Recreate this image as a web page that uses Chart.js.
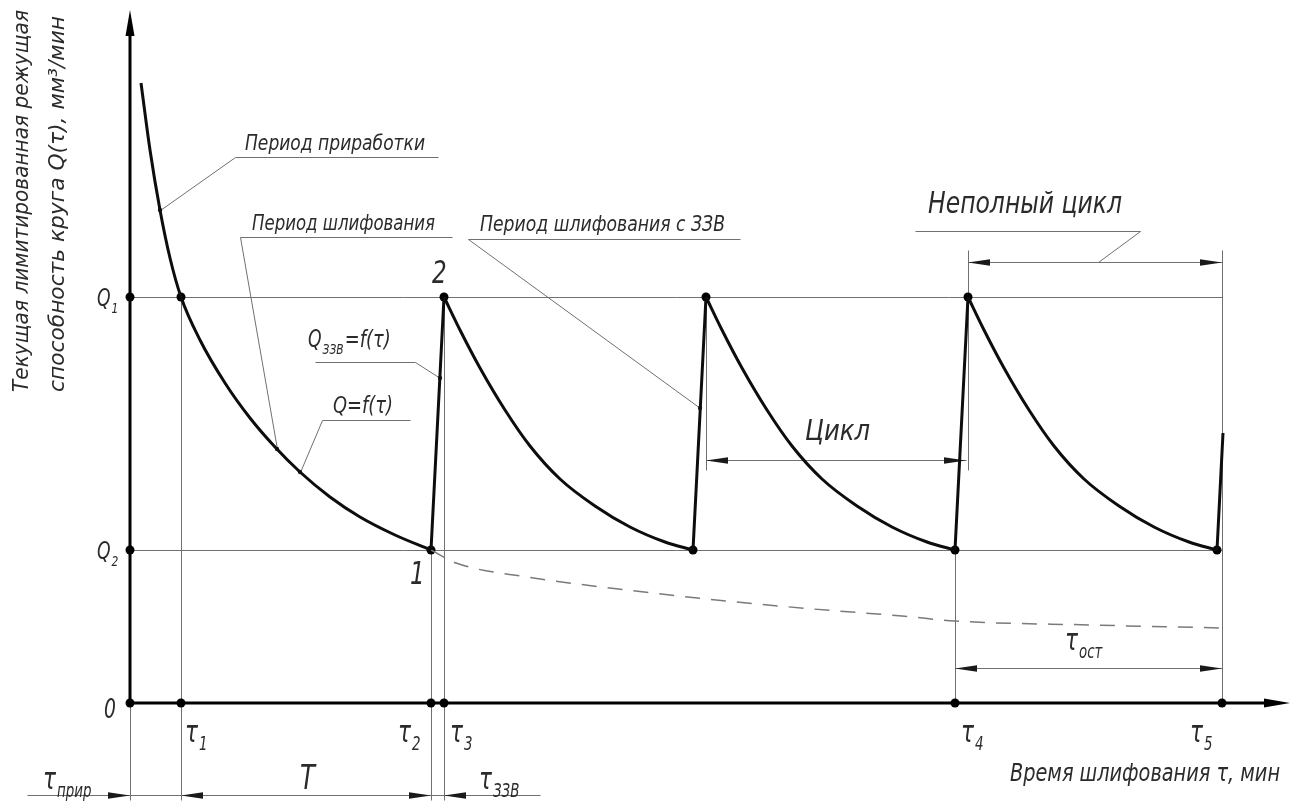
<!DOCTYPE html>
<html lang="ru">
<head>
<meta charset="UTF-8">
<title>Q(τ) – лимитированная режущая способность круга</title>
<script src="https://cdn.jsdelivr.net/npm/chart.js"></script>
<style>
  html, body { margin: 0; padding: 0; background: #fff; }
  #wrap { width: 1298px; height: 802px; }
</style>
</head>
<body>
<div id="wrap"><canvas id="Chart"></canvas></div>
<script>
// run-in period (приработка), tau and Q in conventional units
const runInT = [1.1, 2.0, 3.0, 4.0, 5.1, 7.0, 9.5, 12.0, 14.5, 17.0, 20.0, 23.0, 26.5, 30.1];
const runInQ = [62.0, 55.3, 49.3, 44.5, 40.6, 36.3, 32.0, 28.5, 25.6, 23.1, 20.6, 18.6, 16.8, 15.3];
// grinding cycles after each dressing
const cycle1T = [31.4, 33.0, 35.0, 37.5, 40.0, 43.0, 46.5, 50.0, 53.5, 56.3];
const cycle1Q = [40.6, 37.3, 33.5, 29.3, 25.7, 22.4, 19.7, 17.6, 16.1, 15.3];
const cycle2T = [57.6, 59.2, 61.2, 63.7, 66.2, 69.2, 72.7, 76.2, 79.7, 82.5];
const cycle2Q = [40.6, 37.3, 33.5, 29.3, 25.7, 22.4, 19.7, 17.6, 16.1, 15.3];
const cycle3T = [83.8, 85.4, 87.4, 89.9, 92.4, 95.4, 98.9, 102.4, 105.9, 108.7];
const cycle3Q = [40.6, 37.3, 33.5, 29.3, 25.7, 22.4, 19.7, 17.6, 16.1, 15.3];
// recovery by ЗЗВ (pairs: start, end)
const jumpT = [30.1, 31.4, 56.3, 57.6, 82.5, 83.8, 108.7, 109.3];
const jumpQ = [15.3, 40.6, 15.3, 40.6, 15.3, 40.6, 15.3, 27.0];
// Q=f(τ) without ЗЗВ (dashed)
const wearT = [30.1, 32.6, 39.7, 49.7, 58.6, 68.3, 77.2, 82.5, 96.0, 109.2];
const wearQ = [15.3, 14.0, 12.6, 11.3, 10.3, 9.4, 8.7, 8.2, 7.8, 7.5];
// levels and time marks
const levelQ = [40.6, 15.3];
const levelNames = ['1', '2'];
const tauT = [5.1, 30.1, 31.4, 82.5, 109.2];
const tauNames = ['1', '2', '3', '4', '5'];
// black dots
const markT = [0, 0, 0, 5.1, 30.1, 31.4, 82.5, 109.2, 5.1, 30.1, 31.4, 56.3, 57.6, 82.5, 83.8, 108.7];
const markQ = [40.6, 15.3, 0, 0, 0, 0, 0, 0, 40.6, 15.3, 40.6, 15.3, 40.6, 15.3, 40.6, 15.3];
const leaderT = [3.0, 14.7, 17.0, 31.0, 57.0];
const leaderQ = [49.3, 25.4, 23.1, 32.5, 29.5];

const xMax = 116, yMax = 69.3;
const FONT = '"DejaVu Sans Condensed", "Liberation Sans Narrow", Roboto, sans-serif';

const pts = (t, q) => t.map((v, i) => ({ x: v, y: q[i] }));
function jumpPts() {
    const out = [];
    for (let i = 0; i < jumpT.length; i += 2) {
        out.push({ x: jumpT[i], y: jumpQ[i] }, { x: jumpT[i + 1], y: jumpQ[i + 1] });
        out.push({ x: jumpT[i + 1], y: null }); // break
    }
    return out;
}

function say(ctx, str, px, py, size, o = {}) {
    ctx.save();
    ctx.font = `italic ${size}px ${FONT}`;
    ctx.fillStyle = '#2b2b2b';
    ctx.textAlign = 'left';
    ctx.textBaseline = 'alphabetic';
    ctx.translate(px, py);
    if (o.rot) ctx.rotate(o.rot);
    const w = ctx.measureText(str).width;
    const sx = o.width ? o.width / w : 0.8;
    ctx.scale(sx, 1);
    ctx.fillText(str, 0, 0);
    ctx.restore();
    return w * sx;
}
function saySub(ctx, base, sub, px, py, size) {
    const w = say(ctx, base, px, py, size);
    return w + 1 + say(ctx, sub, px + w + 1, py + size * 0.28, size * 0.62);
}

const drawing = {
    id: 'drawing',
    beforeDatasetsDraw(chart) {
        const { ctx, scales: { x, y } } = chart;
        const X = v => x.getPixelForValue(v), Y = v => y.getPixelForValue(v);
        const seg = (x1, y1, x2, y2) => {
            ctx.beginPath();
            ctx.moveTo(Math.round(X(x1)) + 0.5, Math.round(Y(y1)) + 0.5);
            ctx.lineTo(Math.round(X(x2)) + 0.5, Math.round(Y(y2)) + 0.5);
            ctx.stroke();
        };
        const arrow = (tx, ty, ang) => {
            const px = X(tx), py = Math.round(Y(ty)) + 0.5, L = 22, h = 3.2;
            ctx.beginPath();
            ctx.moveTo(px, py);
            ctx.lineTo(px - L * Math.cos(ang) - h * Math.sin(ang), py - L * Math.sin(ang) + h * Math.cos(ang));
            ctx.lineTo(px - L * Math.cos(ang) + h * Math.sin(ang), py - L * Math.sin(ang) - h * Math.cos(ang));
            ctx.closePath();
            ctx.fill();
        };
        const dim = (x1, x2, yy) => { seg(x1, yy, x2, yy); arrow(x1, yy, Math.PI); arrow(x2, yy, 0); };

        const [Q1, Q2] = levelQ;
        const bottomExt = -9.7, dimBottom = -9.2, extTop = 45.3, extCycle = 23.3;
        ctx.save();
        ctx.strokeStyle = '#707070';
        ctx.fillStyle = '#1a1a1a';
        ctx.lineWidth = 1;
        // levels Q1, Q2
        levelQ.forEach(q => seg(0, q, tauT[4], q));
        // extension lines
        seg(0, 0, 0, bottomExt);
        seg(tauT[0], Q1, tauT[0], bottomExt);
        seg(tauT[1], Q2, tauT[1], bottomExt);
        seg(tauT[2], Q1, tauT[2], bottomExt);
        seg(tauT[3], Q2, tauT[3], 0);
        seg(tauT[4], extTop, tauT[4], 0);
        seg(cycle2T[0], Q1, cycle2T[0], extCycle);
        seg(cycle3T[0], extTop, cycle3T[0], extCycle);
        // bottom dimension chain
        seg(-10.3, dimBottom, 41.0, dimBottom);
        arrow(0, dimBottom, 0);
        arrow(tauT[0], dimBottom, Math.PI);
        arrow(tauT[1], dimBottom, 0);
        arrow(tauT[2], dimBottom, Math.PI);
        // Цикл, Неполный цикл, τост
        dim(cycle2T[0], 83.6, 24.3);
        dim(cycle3T[0], tauT[4], 44.1);
        dim(tauT[3], tauT[4], 3.5);
        // leader lines
        seg(10.5, 54.6, 30.8, 54.6); seg(10.5, 54.6, leaderT[0], leaderQ[0]);
        seg(11.0, 46.6, 32.2, 46.6); seg(11.0, 46.6, leaderT[1], leaderQ[1]);
        seg(19.2, 28.3, 28.0, 28.3); seg(19.2, 28.3, leaderT[2], leaderQ[2]);
        seg(18.5, 34.1, 28.5, 34.1); seg(28.5, 34.1, leaderT[3], leaderQ[3]);
        seg(33.8, 46.4, 61.0, 46.4); seg(33.8, 46.4, leaderT[4], leaderQ[4]);
        seg(78.5, 47.2, 101.0, 47.2); seg(101.0, 47.2, 96.8, 44.1);
        ctx.restore();
    },
    afterDatasetsDraw(chart) {
        const { ctx, scales: { x, y } } = chart;
        const X = v => x.getPixelForValue(v), Y = v => y.getPixelForValue(v);
        ctx.save();
        // axes
        ctx.strokeStyle = '#000';
        ctx.lineWidth = 3;
        ctx.beginPath();
        ctx.moveTo(X(0), Y(yMax) + 20);
        ctx.lineTo(X(0), Y(0));
        ctx.lineTo(X(xMax) - 20, Y(0));
        ctx.stroke();
        ctx.fillStyle = '#000';
        ctx.beginPath();
        ctx.moveTo(X(xMax), Y(0)); ctx.lineTo(X(xMax) - 26, Y(0) - 4.5); ctx.lineTo(X(xMax) - 26, Y(0) + 4.5);
        ctx.closePath(); ctx.fill();
        ctx.beginPath();
        ctx.moveTo(X(0), Y(yMax)); ctx.lineTo(X(0) - 4.5, Y(yMax) + 26); ctx.lineTo(X(0) + 4.5, Y(yMax) + 26);
        ctx.closePath(); ctx.fill();

        // axis titles
        say(ctx, 'Текущая лимитированная режущая', X(-10.2), Y(31.1), 21, { rot: -Math.PI / 2, width: 382 });
        say(ctx, 'способность круга Q(τ), мм³/мин', X(-6.6), Y(31.1), 21, { rot: -Math.PI / 2, width: 376 });
        say(ctx, 'Время шлифования τ, мин', X(88.0), Y(-7.8), 24, { width: 270 });

        // levels and time marks
        say(ctx, '0', X(-2.6), Y(-1.5), 26);
        levelQ.forEach((q, i) => saySub(ctx, 'Q', levelNames[i], X(-3.3), Y(q) + 9, 24));
        const tauDx = [0.4, -3.3, 0.6, 0.6, -3.2];
        tauT.forEach((t, i) => saySub(ctx, 'τ', tauNames[i], X(t + tauDx[i]), Y(-3.9), 30));
        saySub(ctx, 'τ', 'прир', X(-8.7), Y(-8.6), 30);
        say(ctx, 'T', X(17.0), Y(-8.6), 34);
        saySub(ctx, 'τ', 'ЗЗВ', X(34.9), Y(-8.6), 30);
        saySub(ctx, 'τ', 'ост', X(93.5), Y(5.3), 30);

        // notes
        say(ctx, 'Период приработки', X(11.5), Y(55.3), 22, { width: 180 });
        say(ctx, 'Период шлифования', X(12.2), Y(47.3), 22, { width: 183 });
        say(ctx, 'Период шлифования с ЗЗВ', X(35.0), Y(47.2), 22, { width: 245 });
        say(ctx, 'Q=f(τ)', X(20.3), Y(29.0), 23, { width: 60 });
        const w = saySub(ctx, 'Q', 'ЗЗВ', X(17.8), Y(35.6), 24);
        say(ctx, '=f(τ)', X(17.8) + w + 1, Y(35.6), 23, { width: 46 });
        say(ctx, 'Неполный цикл', X(79.8), Y(49.0), 31, { width: 194 });
        say(ctx, 'Цикл', X(67.5), Y(26.3), 29, { width: 65 });
        say(ctx, '1', X(28.0), Y(11.9), 32);
        say(ctx, '2', X(30.2), Y(42.0), 32);
        ctx.restore();
    }
};

const curve = { borderColor: '#0d0d0d', borderWidth: 3, pointRadius: 0, cubicInterpolationMode: 'monotone', clip: false };

new Chart(document.getElementById('Chart'), {
    type: 'line',
    data: {
        datasets: [
            { ...curve, data: pts(runInT, runInQ) },
            { ...curve, data: pts(cycle1T, cycle1Q) },
            { ...curve, data: pts(cycle2T, cycle2Q) },
            { ...curve, data: pts(cycle3T, cycle3Q) },
            { borderColor: '#0d0d0d', borderWidth: 3, pointRadius: 0, tension: 0, spanGaps: false, clip: false, data: jumpPts() },
            { borderColor: '#7a7a7a', borderWidth: 1.5, borderDash: [15, 11], pointRadius: 0, cubicInterpolationMode: 'monotone', clip: false, data: pts(wearT, wearQ) },
            { showLine: false, pointRadius: 4.5, pointBackgroundColor: '#000', pointBorderWidth: 0, clip: false, data: pts(markT, markQ) },
            { showLine: false, pointRadius: 2.2, pointBackgroundColor: '#222', pointBorderWidth: 0, clip: false, data: pts(leaderT, leaderQ) }
        ]
    },
    options: {
        responsive: true,
        maintainAspectRatio: false,
        animation: false,
        layout: { padding: { left: 130, right: 8, top: 10, bottom: 99 } },
        scales: {
            x: { type: 'linear', min: 0, max: xMax, display: false },
            y: { type: 'linear', min: 0, max: yMax, display: false }
        },
        plugins: { legend: { display: false }, tooltip: { enabled: false } }
    },
    plugins: [drawing]
});
</script>
</body>
</html>
